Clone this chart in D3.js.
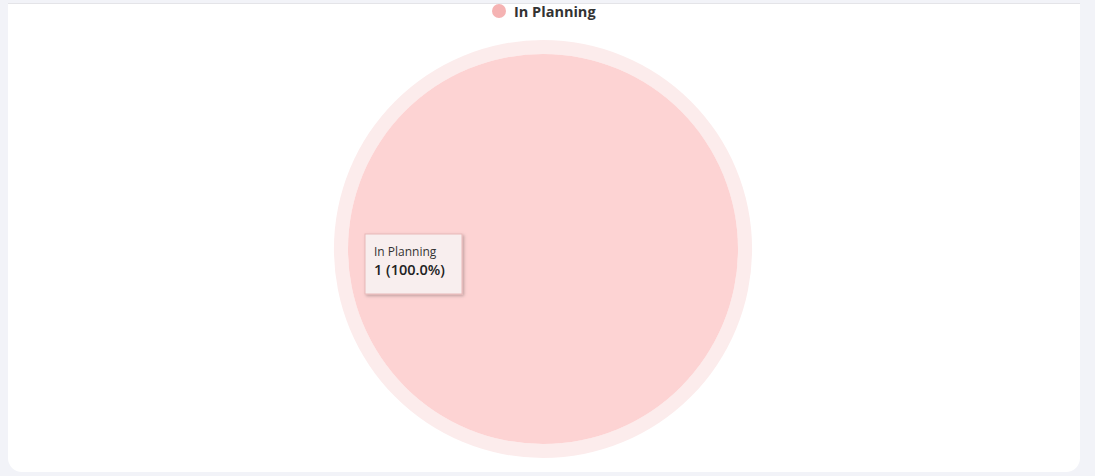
<!DOCTYPE html>
<html><head><meta charset="utf-8">
<script src="https://cdn.jsdelivr.net/npm/d3@7"></script>
<style>
html,body{margin:0;padding:0;background:#f2f3f8;width:1095px;height:476px;overflow:hidden;font-family:"Open Sans",sans-serif;}
#card{position:absolute;left:8px;top:3px;width:1072px;height:468px;background:#fff;border-top:1px solid #e4e4e8;border-radius:0 0 14px 14px;}
svg{position:absolute;left:0;top:0;}
</style></head><body>
<div id="card"></div>
<svg id="chart" width="1095" height="476"></svg>
<script>
const categories = ["In Planning"];
const values = [1];
const colors = ["#fdd3d3"];
const legendColors = ["#f5b3b3"];

const svg = d3.select("#chart");
const cx = 543, cy = 249, r = 195, halo = 209;
const total = d3.sum(values);
const pie = d3.pie().sort(null)(values);
const arc = d3.arc().innerRadius(0).outerRadius(r);
const arcHalo = d3.arc().innerRadius(r).outerRadius(halo);

const g = svg.append("g").attr("transform", `translate(${cx},${cy})`);
g.selectAll("path.halo").data(pie).join("path").attr("class","halo")
  .attr("d", arcHalo).attr("fill", "#fcecec");
g.selectAll("path.slice").data(pie).join("path").attr("class","slice")
  .attr("d", arc).attr("fill", (d,i)=>colors[i]);

// legend
const lg = svg.append("g").attr("transform","translate(499,11)");
categories.forEach((c,i)=>{
  lg.append("circle").attr("cx",0).attr("cy",0).attr("r",7).attr("fill",legendColors[i]);
  lg.append("text").attr("x",15).attr("y",5.5).attr("font-size",14.5).attr("font-weight",700)
    .attr("fill","#333").attr("font-family","Open Sans, sans-serif").text(c);
});

// tooltip
const defs = svg.append("defs");
const f = defs.append("filter").attr("id","sh").attr("x","-20%").attr("y","-20%").attr("width","150%").attr("height","150%");
f.append("feDropShadow").attr("dx",1.5).attr("dy",1.5).attr("stdDeviation",1.5).attr("flood-color","#000").attr("flood-opacity",0.25);
const tt = svg.append("g").attr("transform","translate(365,234)");
tt.append("rect").attr("width",97).attr("height",60).attr("fill","#f8eeee")
  .attr("stroke","#e8b8b8").attr("stroke-width",1).attr("filter","url(#sh)");
tt.append("text").attr("x",9).attr("y",22).attr("font-size",12).attr("fill","#333")
  .attr("font-family","Open Sans, sans-serif").text(categories[0]);
tt.append("text").attr("x",9).attr("y",41).attr("font-size",14.5).attr("font-weight",600).attr("fill","#222")
  .attr("font-family","Open Sans, sans-serif")
  .text(`${values[0]} (${(values[0]/total*100).toFixed(1)}%)`);
</script>
</body></html>
